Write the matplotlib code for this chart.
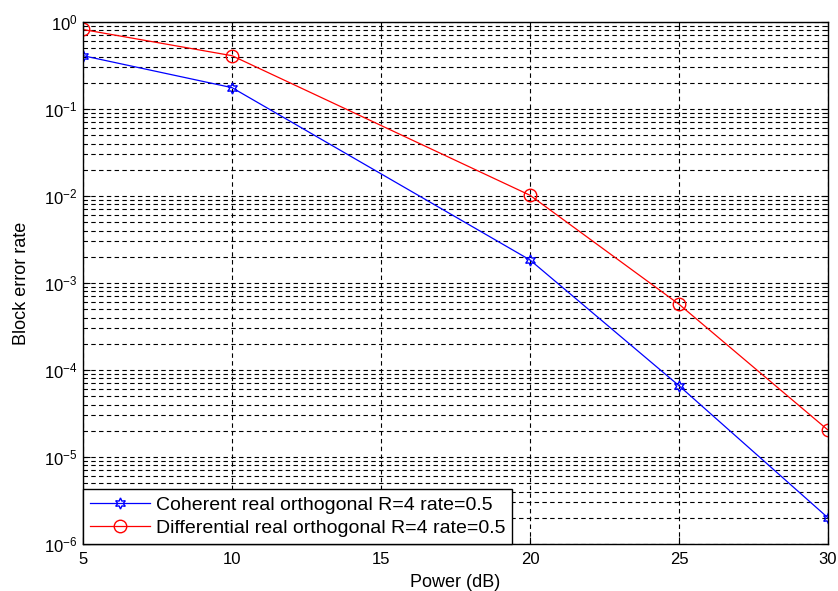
import matplotlib
matplotlib.use("Agg")
import matplotlib.pyplot as plt
from matplotlib.ticker import LogLocator, NullFormatter

plt.rcParams['font.family'] = ['Liberation Sans', 'DejaVu Sans']
plt.rcParams['mathtext.fontset'] = 'custom'
plt.rcParams['mathtext.rm'] = 'Liberation Sans'
plt.rcParams['mathtext.it'] = 'Liberation Sans'

power = [5, 10, 20, 25, 30]
coherent = [0.41, 0.176, 1.84e-3, 6.6e-5, 2.0e-6]
differential = [0.82, 0.41, 1.02e-2, 5.7e-4, 2.04e-5]
labels = ["Coherent real orthogonal R=4 rate=0.5",
          "Differential real orthogonal R=4 rate=0.5"]
xticks = [5, 10, 15, 20, 25, 30]

fig = plt.figure(figsize=(8.38, 5.91), dpi=100)
ax = fig.add_axes([83/838, 47/591, (828-83)/838, (544-22)/591])

ax.semilogy(power, coherent, color='blue', lw=0.9, marker=(6, 1, 0), ms=8,
            mfc='none', mec='blue', mew=1.0, label=labels[0])
ax.semilogy(power, differential, color='red', lw=0.9, marker='o', ms=9,
            mfc='none', mec='red', mew=1.0, label=labels[1])

ax.set_xlim(5, 30)
ax.set_ylim(1e-6, 1)
ax.set_xticks(xticks)
ax.set_xticklabels([str(x) for x in xticks])
ax.yaxis.set_major_locator(LogLocator(base=10, numticks=10))
ax.yaxis.set_minor_locator(LogLocator(base=10, subs=range(2, 10), numticks=100))
ax.yaxis.set_minor_formatter(NullFormatter())

ax.grid(True, which='major', axis='both', linestyle=(0, (4, 3)), color='black', lw=0.8)
ax.grid(True, which='minor', axis='y', linestyle=(0, (4, 3)), color='black', lw=0.8)
ax.tick_params(which='both', direction='in', top=True, right=True, labelsize=12)
ax.tick_params(which='major', length=5, pad=6)
ax.tick_params(which='minor', length=3)
ax.tick_params(axis='y', pad=4)
for s in ax.spines.values():
    s.set_linewidth(1.0)

ax.set_xlabel("Power (dB)", fontsize=13, labelpad=5)
ax.set_ylabel("Block error rate", fontsize=13, labelpad=10)

leg = ax.legend(loc='lower left', fontsize=14, fancybox=False, framealpha=1,
                edgecolor='black', borderaxespad=0, handlelength=3.1,
                handletextpad=0.3, borderpad=0.35, labelspacing=0.3)
leg.get_frame().set_linewidth(1.0)

fig.savefig("out.png", dpi=100)
